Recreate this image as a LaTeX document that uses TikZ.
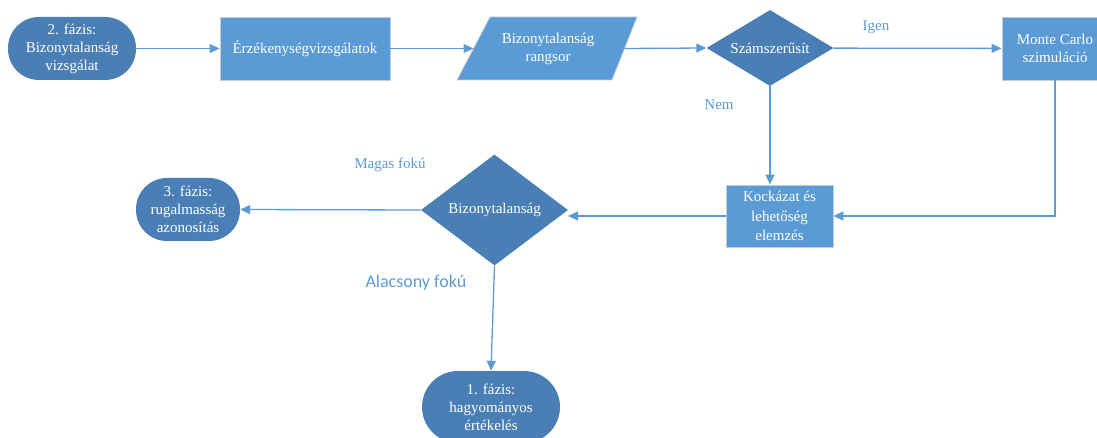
\documentclass[tikz,border=0pt]{standalone}
\usepackage{fontspec}
\setmainfont{Liberation Serif}
\newfontfamily\labelsans{Carlito}
\usetikzlibrary{shapes.geometric,arrows.meta}

\definecolor{darkfill}{HTML}{4A7FB5}
\definecolor{lightfill}{HTML}{5B9BD5}
\definecolor{edgeblue}{HTML}{5B9BD5}
\definecolor{rim}{HTML}{C5CCD6}

\begin{document}
\begin{tikzpicture}[x=1pt,y=-1pt,
  every node/.style={font=\fontsize{15}{18}\selectfont, text=white, align=center, inner sep=0pt},
  terminal/.style={fill=darkfill, rounded corners=31pt, minimum height=63pt},
  process/.style={fill=lightfill, draw=rim, line width=0.8pt, minimum height=63pt},
  decision/.style={diamond, fill=darkfill, aspect=1.6},
  ioshape/.style={fill=lightfill, draw=rim, line width=0.8pt},
  flow/.style={draw=edgeblue, line width=1.3pt, -{Triangle[length=10pt,width=9pt]}},
  tag/.style={text=edgeblue}
]
\useasboundingbox (0,0) rectangle (1097,438);
\clip (0,0) rectangle (1097,438);

% data box (parallelogram) drawn as a path, with its side midpoints named
\draw[ioshape] (457,80) -- (490,17) -- (637,17) -- (612,80) -- cycle;
\coordinate (rankin) at (473.5,48.5);
\coordinate (rankout) at (624.5,48.5);

% top row
\node[terminal, minimum width=128pt] (f2) at (72,48.5) {2. fázis:\\Bizonytalanság\\vizsgálat};
\node[process, minimum width=170pt] (sens) at (305,48.5) {Érzékenységvizsgálatok};
\node (rank) at (548,48.5) {Bizonytalanság\\rangsor};
\node[decision, minimum width=127pt, minimum height=76pt] (szam) at (770,48) {Számszerűsít};
\node[process, minimum width=106pt] (mc) at (1055,48.5) {Monte Carlo\\szimuláció};

% middle row
\node[process, minimum width=107pt, minimum height=62pt, font=\fontsize{15}{19.5}\selectfont] (kock) at (779.5,216) {Kockázat és\\lehetőség\\elemzés};
\node[decision, minimum width=147pt, minimum height=111pt] (biz) at (494.5,210) {Bizonytalanság};
\node[terminal, minimum width=104pt] (f3) at (188,209.5) {3. fázis:\\rugalmasság\\azonosítás};

% bottom
\node[terminal, minimum width=138pt, minimum height=72pt, rounded corners=36pt] (f1) at (491,407) {1. fázis:\\hagyományos\\értékelés};

% connectors
\draw[flow] (f2) -- (sens);
\draw[flow] (sens.east) -- (rankin);
\draw[flow] (rankout) -- (szam.west);
\draw[flow] (szam) -- (mc);
\draw[flow] (szam.south) -- (szam.south |- kock.north);
\draw[flow] (mc.south) |- (kock.east);
\coordinate (bizin) at (568,216);
\draw[flow] (kock.west) -- (bizin);
\draw[flow] (biz.west) -- (f3.east);
\draw[flow] (biz.south) -- (f1.north);

% branch labels
\node[tag] (igen) at (876,27) {Igen};
\node[tag] (nem) at (719,105) {Nem};
\node[tag] (magas) at (390,165) {Magas fokú};
\node[tag, font=\labelsans\fontsize{18}{21}\selectfont] (alacs) at (416,283) {Alacsony fokú};
\end{tikzpicture}
\end{document}
